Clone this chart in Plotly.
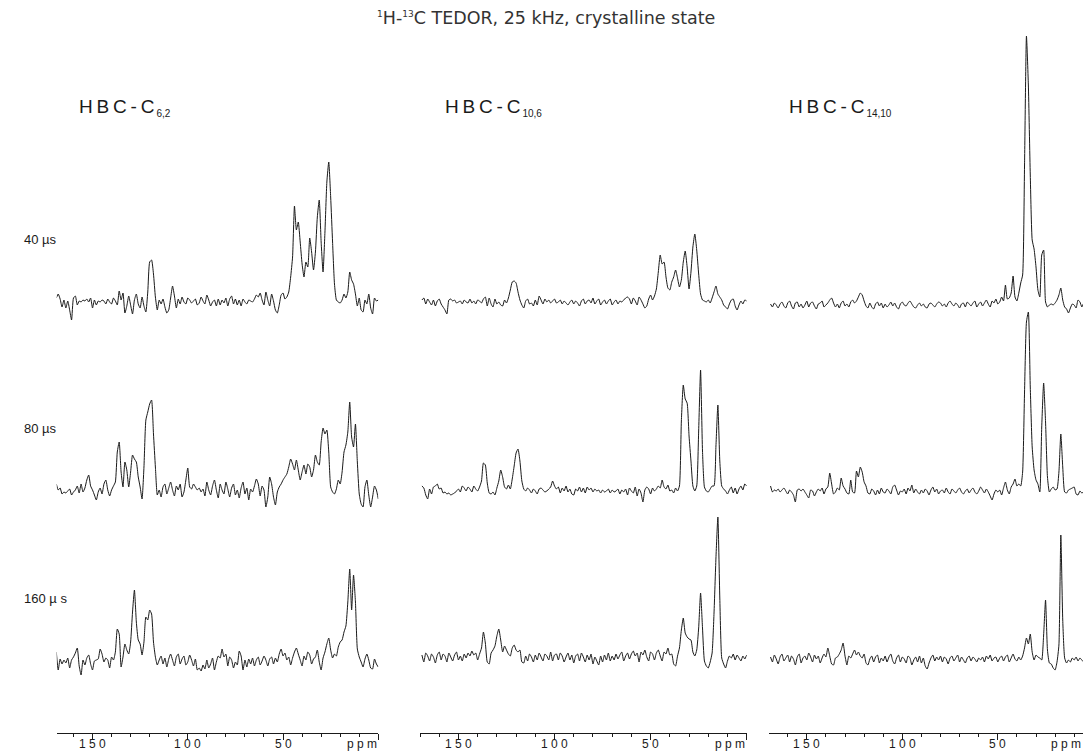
import plotly.graph_objects as go

# ---------------- data (intensity above baseline, arbitrary units) ----------------
PPM = list(range(169, -1, -1))  # 169 ... 0 ppm, 170 points

P1_40 = [4, 8, 3, -5, 2, -6, 1, -8, -18, 4,
         6, -3, 1, 0, 2, 1, 3, 0, 4, -6,
         2, -3, 1, 0, 2, 1, -2, 3, 0, -2,
         4, 1, -3, 11, 2, 9, -11, -4, 6, -3,
         -12, 2, 8, -2, -6, 5, -4, -10, 10, 40,
         42, 28, 5, -8, 2, -2, 3, -5, -11, -8,
         4, 16, 6, -6, 3, -2, 5, 0, -2, 4,
         2, -1, 1, 3, -3, -1, 5, 1, -2, 7,
         2, -4, 0, 2, -4, 3, -3, 2, -1, 4,
         -4, 3, 6, -2, 3, -3, 2, -4, 3, 0,
         -2, 2, 1, 0, 3, 7, 5, 9, 2, -3,
         10, 2, -4, 8, 1, -8, -11, -3, 7, 9,
         3, 5, 10, 25, 45, 96, 72, 80, 60, 38,
         25, 40, 35, 64, 50, 32, 50, 85, 102, 60,
         30, 70, 120, 140, 105, 60, 18, 2, 0, -1,
         2, 8, 4, 10, 30, 22, 18, 8, -4, 4,
         -8, -10, 2, -2, 8, -6, -12, 4, 1, 2]

P1_80 = [8, 2, 4, -2, 0, -1, 1, 3, -3, 0,
         2, 6, -1, 8, 0, 4, 12, 17, 6, 2,
         -3, -8, 0, 4, -2, 8, 12, 2, -4, 2,
         6, 10, 40, 50, 20, 5, 30, 22, 5, 20,
         37, 33, 30, 15, 5, -7, 25, 72, 80, 88,
         92, 58, 25, -3, 2, -5, 5, 8, -2, 4,
         10, 2, -4, 6, 2, 8, -5, 0, 12, 24,
         5, 3, 8, 5, 2, 4, 0, 3, -4, 10,
         2, -3, 6, 12, 2, -6, 8, 2, -2, 10,
         3, -5, 4, 8, -3, 2, -6, 4, 10, -2,
         4, -8, 3, 0, 6, 13, 8, -4, 6, 2,
         -15, -5, 15, 8, -5, -13, 0, 5, 8, 12,
         15, 18, 25, 33, 28, 22, 32, 22, 12, 20,
         27, 18, 28, 25, 15, 22, 37, 30, 27, 50,
         64, 58, 62, 40, 5, 0, -2, 3, 12, 8,
         20, 40, 47, 60, 90, 55, 45, 68, 30, -2,
         -12, -15, 5, 12, -3, -15, -5, 6, 2, -7]

P1_160 = [10, -8, 3, -2, 2, -1, 4, -6, 2, 5,
          9, 14, -4, -13, 2, -3, 4, 7, -2, -8,
          1, 2, 3, 13, 8, 0, 4, 2, -6, 5,
          2, 10, 33, 28, -5, 5, 18, 12, 8, 20,
          50, 72, 40, 22, 18, 7, 20, 45, 42, 52,
          48, 20, 5, -3, 2, 6, -2, 4, -5, 3,
          8, 2, -4, 5, 8, -2, 3, 6, -3, 0,
          7, 2, -4, 3, -8, -6, -9, -3, -7, 2,
          -6, -2, 4, -8, 0, 6, 4, 13, 5, 8,
          -4, 5, 2, -6, 0, -3, 11, 6, -8, 2,
          -5, 3, -2, 4, -4, 2, 5, -3, 1, 6,
          2, -4, 3, 5, -2, 4, 0, 8, 13, 6,
          9, 2, 5, -3, 4, 10, 14, 8, 2, -4,
          6, 2, 10, 7, -2, 3, 5, 12, 0, -8,
          4, 10, 18, 24, 12, 4, 8, 6, 15, 20,
          22, 30, 36, 60, 93, 52, 87, 60, 13, 5,
          0, -5, 3, 8, 2, -6, -7, 3, -2, -5]

P2_40 = [2, 4, -2, 3, 0, -3, 2, -4, 1, 3,
         -2, -5, -8, -12, 2, 3, 1, 2, -1, 0,
         1, -2, 2, 0, -1, 3, -1, 1, -2, 2,
         1, -1, 3, 5, -4, 4, -2, -5, 3, -2,
         0, -3, -4, 2, -1, 4, 12, 20, 21, 19,
         10, 2, -3, -6, 1, 3, -2, -1, -4, 2,
         -3, 6, 2, -2, 3, 0, 2, -1, 1, 3,
         -1, 0, 2, -2, 1, -1, -3, 0, 2, -2,
         1, -1, -4, 1, 3, -2, 1, 2, -1, 4,
         -2, 1, 3, -3, 0, 2, -2, 1, 3, -3,
         0, 2, -2, 1, 0, 2, 4, 5, 3, -2,
         4, 1, -3, 5, 2, -2, -6, -4, 3, 7,
         2, 6, 13, 30, 47, 38, 40, 25, 14, 12,
         20, 25, 32, 24, 15, 22, 40, 51, 35, 13,
         30, 55, 68, 52, 28, 8, 2, 1, 0, 2,
         -1, 4, 10, 16, 8, 5, 2, -3, -5, -7,
         -2, 2, 3, -4, -8, -3, 1, -2, 2, 1]

P2_80 = [5, 3, -4, -8, 2, -3, 4, 5, 7, 2,
         3, -2, -1, -3, -2, -4, -3, -2, 0, 2,
         -1, 5, 3, 0, 4, 2, -1, 5, 2, 0,
         4, 10, 28, 26, 8, -2, -3, -1, -4, 3,
         10, 21, 14, 4, 2, 6, 2, 12, 25, 38,
         42, 30, 10, 2, 0, 3, 1, -2, 2, 0,
         -3, 2, 3, 1, -1, 0, 2, 4, 10, 5,
         2, 4, -2, 3, 0, 5, -1, 2, -3, -4,
         2, 0, 4, -1, 3, -2, 4, 1, 3, -1,
         2, 0, 1, -2, 1, -1, 0, 2, -2, 1,
         -1, 0, 2, -3, 1, -1, 2, -4, 3, 0,
         -2, 4, -5, 2, -2, -11, 1, 4, 2, -3,
         3, 0, 2, 5, 3, 11, 4, 2, 6, 0,
         1, -2, 3, 0, 5, 70, 106, 92, 88, 55,
         30, 5, 0, 5, 60, 121, 40, 4, 0, -1,
         2, 5, 5, 45, 86, 30, 5, 2, 0, -3,
         1, 4, -2, 3, -3, 2, 5, 1, 7, 5]

P2_160 = [3, -4, 5, 2, -3, 4, 1, -5, 3, 6,
          -2, 4, 2, -4, 5, 1, -3, 3, 6, -2,
          2, -3, 4, 0, 5, 2, 7, 3, 5, -2,
          4, 10, 26, 15, -4, -6, 5, 8, 12, 22,
          29, 18, 6, 12, 8, 4, 2, 10, 13, 8,
          6, 8, -4, -5, 2, -3, 4, 1, -4, 3,
          -2, 5, 1, -3, 4, 2, -2, 6, -3, 3,
          4, -2, 5, 2, -4, 1, 5, -2, 3, -5,
          2, 4, -3, 5, 1, -4, 3, -2, 4, -6,
          1, -3, -7, 2, -4, 3, -2, 5, -3, 2,
          -2, 4, -1, 3, 6, -3, 2, 5, -1, 4,
          7, 2, 5, -4, 6, 3, 8, 1, -3, 6,
          4, -2, 5, 8, 2, -3, 6, 4, 10, 3,
          4, -6, -8, 2, 10, 28, 40, 25, 21, 19,
          18, 6, 2, 8, 30, 65, 30, -3, -8, -10,
          -4, 5, 45, 100, 141, 60, 0, -6, -10, -3,
          2, 0, 4, -2, 3, 0, -3, 2, -1, 3]

P3_40 = [1, -2, 2, 0, -3, 1, 3, -1, -3, 2,
         4, -1, -4, 2, 3, -2, 1, -3, 0, 4,
         -2, 2, 3, -1, -4, 1, 2, 4, -2, 0,
         2, 5, 7, 2, -2, 1, -3, 2, 4, -1,
         1, -2, 3, 5, 2, 4, 8, 12, 10, 4,
         -1, -3, 2, -2, -4, 1, 3, -1, 2, -3,
         1, -2, 0, 3, -1, 2, -2, -4, 1, 3,
         0, -1, 2, 4, 1, -2, -3, 0, 2, -1,
         1, -2, -3, 1, 2, 0, -2, 1, 3, 2,
         -1, 1, -2, 2, 4, 1, -1, 2, 0, -3,
         1, 2, -2, 3, 1, -1, 2, 4, -2, 1,
         3, -1, 2, 5, 1, -2, 4, 2, 6, 1,
         3, 8, 4, 20, 6, 7, 12, 29, 8, 4,
         12, 22, 30, 140, 269, 220, 130, 65, 56, 38,
         15, 8, 50, 55, 3, -2, 0, 1, 0, 2,
         5, 10, 17, 5, -2, -4, -8, -3, 1, 0,
         -3, 5, 3, -2, 2, 3, 0, -1, 0, 0]

P3_80 = [6, 0, 2, 1, 3, 0, 2, 4, 1, -2,
         2, 0, -3, -10, 2, 3, 1, 3, 0, -3,
         -6, 2, 1, -4, 0, 3, 1, 4, -2, 3,
         5, 19, 8, -2, 0, 4, 2, 14, 6, 3,
         -1, -2, 12, 0, -1, 21, 15, 25, 20, 10,
         6, -1, -2, 3, 1, -3, 2, -2, 4, 0,
         -1, 3, 1, -2, 5, 7, 2, -3, 1, 0,
         3, -2, 4, 1, 7, -1, 3, 0, -2, 2,
         -1, 3, 1, -3, 2, 5, 0, 3, -2, 1,
         2, -1, 4, 0, -2, 3, 1, -1, 2, 4,
         0, -2, 1, 3, -1, 2, 4, 0, -2, 1,
         5, 2, -1, 3, 0, -4, -8, -2, 2, 0,
         2, -3, 4, 10, 2, -2, 5, 8, 13, 6,
         8, 6, 20, 100, 170, 180, 105, 45, 22, 12,
         8, 0, 65, 109, 70, 15, 0, 3, 5, 2,
         3, 20, 58, 25, 0, -1, 2, 3, 4, 5,
         -2, -3, 1, -1, 0, -4, -6, -5, -6, -6]

P3_160 = [3, -2, 5, 1, -4, 3, 6, -1, 2, 5,
          -2, 4, 1, -5, 3, 6, -3, 2, 4, 0,
          7, 3, -2, 5, 1, 4, -3, 2, 6, 3,
          12, 4, -4, -5, 2, 3, 6, 10, 17, 4,
          -5, 4, 2, 6, 10, 5, 8, 4, 2, 6,
          -3, -5, 1, 4, -2, 3, 5, -3, 2, -1,
          4, -2, 3, 6, -1, -4, 2, 5, -2, 3,
          1, -3, 4, 2, -5, 0, 3, -2, 4, -3,
          2, -6, -9, -3, 2, 5, -1, 3, 0, 4,
          -2, 3, 1, -4, 2, 4, -1, 2, 5, -2,
          3, 0, -3, 2, 4, -1, 3, 1, -2, 2,
          0, 3, -2, 4, 1, 5, -1, 2, 3, -2,
          2, 4, -1, 3, 5, -2, 2, 6, 1, -1,
          3, 0, 4, 12, 22, 16, 26, 8, 0, 5,
          3, 2, 0, 25, 60, 10, -3, -4, -8, -10,
          -2, 15, 125, 40, 2, -3, 0, -2, 2, 0,
          3, -1, 2, 0, -2, 1, -3, -5, -6, -6]

SPECTRA = [[P1_40, P1_80, P1_160],
           [P2_40, P2_80, P2_160],
           [P3_40, P3_80, P3_160]]

ROW_LABELS = ["40 \u00b5s", "80 \u00b5s", "160 \u00b5 s"]
PANEL_LABELS = ["H\u2009B\u2009C\u2009-\u2009C<sub><span style='font-size:10px'>\u20096,2</span></sub>",
                "H\u2009B\u2009C\u2009-\u2009C<sub><span style='font-size:10px'>\u200910,6</span></sub>",
                "H\u2009B\u2009C\u2009-\u2009C<sub><span style='font-size:10px'>\u200914,10</span></sub>"]
TICK_VALS = [150, 100, 50, 0]
TICK_LABELS = ["1 5 0", "1 0 0", "5 0"]
TITLE = ("<sup><span style='font-size:9px'>1</span></sup>H-"
         "<sup><span style='font-size:9px'>13</span></sup>C TEDOR, 25 kHz, crystalline state")

# ---------------- layout geometry (window pixels of the reference) ----------------
WIN_W, WIN_H = 1091, 751
BODY = 8                                   # default page margin around the plot div
W, H = WIN_W - 2 * BODY, WIN_H - BODY      # drawable area of the page


def fx(px):
    return min(max((px - BODY) / W, 0.0), 1.0)


def fy(py):
    return 1 - (py - BODY) / H


RIGHT_EDGE = BODY + W                      # last visible window column
COL_PX = [(56.7, 378.3), (420.0, 746.7), (769.0, RIGHT_EDGE)]
COL_RANGE = [(168.8, 0.0), (170.0, 0.0), (169.8, (1093.3 - RIGHT_EDGE) / 1.91)]
PPM_LABEL_RIGHT = [378.5, 747.0, RIGHT_EDGE]
BASE_PX = [[302, 492, 662], [302, 491, 658], [305, 492, 660]]
AXIS_PX = 733
TICKLABEL_PX = 743.5
ROW_LABEL_Y = [239, 428, 598]
PANEL_LABEL_X = [77, 443, 787]
PANEL_LABEL_Y = 107

FONT = "Liberation Sans, Arial, sans-serif"
INK = "#1a1a1a"

fig = go.Figure()
for c in range(3):
    xa = "x" if c == 0 else f"x{c + 1}"
    ya = "y" if c == 0 else f"y{c + 1}"
    for r in range(3):
        off = WIN_H - BASE_PX[c][r]
        fig.add_trace(go.Scatter(
            x=PPM, y=[off + v for v in SPECTRA[c][r]], mode="lines",
            line=dict(color=INK, width=1, shape="spline", smoothing=0.5),
            xaxis=xa, yaxis=ya, showlegend=False, hoverinfo="skip"))

layout = dict(
    width=W, height=H, margin=dict(l=0, r=0, t=0, b=0),
    paper_bgcolor="white", plot_bgcolor="rgba(0,0,0,0)",
    showlegend=False,
)
for c in range(3):
    xk = "xaxis" if c == 0 else f"xaxis{c + 1}"
    yk = "yaxis" if c == 0 else f"yaxis{c + 1}"
    xa = "x" if c == 0 else f"x{c + 1}"
    layout[xk] = dict(
        domain=[fx(COL_PX[c][0]), fx(COL_PX[c][1])],
        range=list(COL_RANGE[c]), anchor="free", position=fy(AXIS_PX),
        showline=True, linecolor=INK, linewidth=1, mirror=False,
        showgrid=False, zeroline=False,
        tickmode="array", tickvals=TICK_VALS, showticklabels=False,
        ticks="outside", ticklen=6, tickwidth=1, tickcolor=INK,
        minor=dict(tickmode="linear", tick0=0, dtick=10, ticks="outside",
                   ticklen=3, tickwidth=1, tickcolor=INK, showgrid=False),
    )
    layout[yk] = dict(domain=[0, 1], range=[0, H], anchor=xa, visible=False,
                      fixedrange=True)
fig.update_layout(**layout)

ann = []
ann.append(dict(text=TITLE, x=fx(546), y=fy(18.5), xref="paper", yref="paper",
                xanchor="center", yanchor="middle", showarrow=False,
                font=dict(family="DejaVu Sans, sans-serif", size=17.5, color="#333")))
for c in range(3):
    xa = "x" if c == 0 else f"x{c + 1}"
    ann.append(dict(text=PANEL_LABELS[c], x=fx(PANEL_LABEL_X[c]), y=fy(PANEL_LABEL_Y),
                    xref="paper", yref="paper", xanchor="left", yanchor="middle",
                    showarrow=False, font=dict(family=FONT, size=19, color=INK)))
    for v, t in zip(TICK_VALS[:3], TICK_LABELS):
        ann.append(dict(text=t, x=v, y=fy(TICKLABEL_PX), xref=xa, yref="paper",
                        xanchor="center", yanchor="middle", showarrow=False,
                        font=dict(family=FONT, size=12, color=INK)))
    ann.append(dict(text="p p m", x=fx(PPM_LABEL_RIGHT[c]), y=fy(TICKLABEL_PX),
                    xref="paper", yref="paper", xanchor="right", yanchor="middle",
                    showarrow=False, font=dict(family=FONT, size=12, color=INK)))
for r in range(3):
    ann.append(dict(text=ROW_LABELS[r], x=fx(22), y=fy(ROW_LABEL_Y[r]),
                    xref="paper", yref="paper", xanchor="left", yanchor="middle",
                    showarrow=False, font=dict(family=FONT, size=13, color=INK)))
fig.update_layout(annotations=ann)

fig.write_html("out.html")
